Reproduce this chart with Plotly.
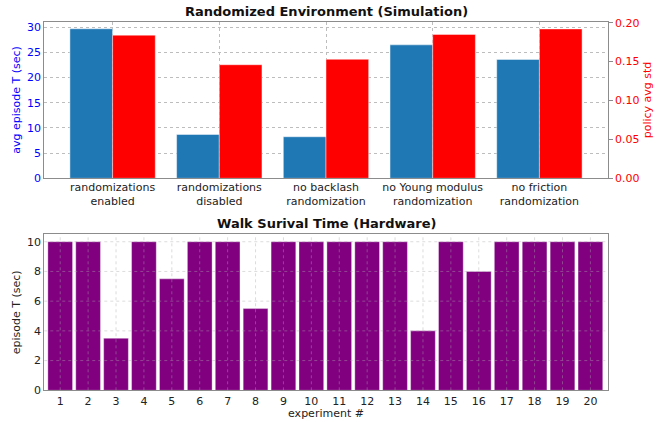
import plotly.graph_objects as go

# ---- data ----
sim_labels = ["randomizations<br>enabled", "randomizations<br>disabled",
              "no backlash<br>randomization", "no Young modulus<br>randomization",
              "no friction<br>randomization"]
sim_pos = [0, 1, 2, 3, 4]
avg_episode_t = [29.7, 8.7, 8.25, 26.5, 23.6]
policy_avg_std = [0.184, 0.146, 0.153, 0.185, 0.192]

experiments = list(range(1, 21))
episode_t = [10, 10, 3.5, 10, 7.5, 10, 10, 5.5, 10, 10,
             10, 10, 10, 4, 10, 8, 10, 10, 10, 10]

left_ticks = [0, 5, 10, 15, 20, 25, 30]
right_ticks = [0.0, 0.05, 0.10, 0.15, 0.20]
hw_yticks = [0, 2, 4, 6, 8, 10]

W, H = 663, 422
FONT = "DejaVu Sans"
SPINE = "#8c8c8c"
GRID = "#bdbdbd"

fig = go.Figure()

# ---- top: simulation ----
fig.add_trace(go.Bar(
    x=sim_pos, y=avg_episode_t, offset=-0.4, width=0.4,
    marker=dict(color="#1f77b4", line=dict(color="rgba(255,255,255,0.45)", width=1)),
    xaxis="x", yaxis="y", showlegend=False
))
fig.add_trace(go.Bar(
    x=sim_pos, y=policy_avg_std, offset=0.0, width=0.4,
    marker=dict(color="#ff0000", line=dict(color="rgba(255,255,255,0.45)", width=1)),
    xaxis="x", yaxis="y2", showlegend=False
))

# ---- bottom: hardware ----
fig.add_trace(go.Bar(
    x=experiments, y=episode_t, width=0.885,
    marker=dict(color="#800080", line=dict(color="rgba(255,255,255,0.35)", width=1)),
    xaxis="x2", yaxis="y3", showlegend=False
))

# grid over the purple bars (matplotlib drew it on top here)
shapes = []
for v in hw_yticks[1:]:
    shapes.append(dict(type="line", xref="x2 domain", yref="y3", x0=0, x1=1, y0=v, y1=v,
                       line=dict(color="rgba(170,170,170,0.6)", width=0.7, dash="dot"),
                       layer="above"))
for e in experiments:
    shapes.append(dict(type="line", xref="x2", yref="y3 domain", x0=e, x1=e, y0=0, y1=1,
                       line=dict(color="rgba(170,170,170,0.6)", width=0.7, dash="dot"),
                       layer="above"))

xd_top = [44.3 / W, 607.7 / W]
yd_top = [1 - 178.3 / H, 1 - 21.7 / H]
yd_bot = [1 - 390.3 / H, 1 - 234.3 / H]

tick_font = dict(family=FONT, size=11, color="#222")
label_size = 11

fig.update_layout(
    width=W, height=H,
    margin=dict(l=0, r=0, t=0, b=0, autoexpand=False),
    paper_bgcolor="white", plot_bgcolor="white",
    font=dict(family=FONT, size=11, color="#222"),
    barmode="overlay",
    shapes=shapes,
    xaxis=dict(domain=xd_top, anchor="y", range=[-0.64, 4.64], automargin=False,
               tickvals=sim_pos, ticktext=sim_labels, tickfont=tick_font,
               ticklabelstandoff=-2,
               showline=True, linecolor=SPINE, linewidth=1, mirror=True,
               showgrid=True, gridcolor=GRID, griddash="dot", gridwidth=0.8,
               ticks="", zeroline=False),
    yaxis=dict(domain=yd_top, anchor="x", range=[0, 31.1], automargin=False,
               tickvals=left_ticks, tickfont=dict(family=FONT, size=11, color="blue"),
               title=dict(text="avg episode T (sec)",
                          font=dict(family=FONT, size=label_size, color="blue"), standoff=4),
               showline=True, linecolor=SPINE, linewidth=1,
               showgrid=True, gridcolor=GRID, griddash="dot", gridwidth=0.8,
               ticks="", zeroline=False),
    yaxis2=dict(overlaying="y", side="right", anchor="x", range=[0, 0.2013], automargin=False,
                tickvals=right_ticks, tickformat=".2f",
                tickfont=dict(family=FONT, size=11, color="red"),
                title=dict(text="policy avg std",
                           font=dict(family=FONT, size=label_size, color="red"), standoff=4),
                showline=True, linecolor=SPINE, linewidth=1,
                ticks="outside", ticklen=4, tickcolor=SPINE,
                showgrid=False, zeroline=False),
    xaxis2=dict(domain=xd_top, anchor="y3", range=[0.43, 20.62], automargin=False,
                tickvals=experiments, tickfont=tick_font,
                title=dict(text="experiment #",
                           font=dict(family=FONT, size=label_size, color="#222"), standoff=1),
                showline=True, linecolor=SPINE, linewidth=1, mirror=True,
                showgrid=False, ticks="", zeroline=False),
    yaxis3=dict(domain=yd_bot, anchor="x2", range=[0, 10.5], automargin=False,
                tickvals=hw_yticks, tickfont=dict(family=FONT, size=11, color="#222"),
                title=dict(text="episode T (sec)",
                           font=dict(family=FONT, size=label_size, color="#222"), standoff=4),
                showline=True, linecolor=SPINE, linewidth=1, mirror=True,
                showgrid=False, ticks="", zeroline=False),
    annotations=[
        dict(text="<b>Randomized Environment (Simulation)</b>", xref="paper", yref="paper",
             x=(xd_top[0] + xd_top[1]) / 2, y=1 - 12 / H, yanchor="middle", showarrow=False,
             font=dict(family=FONT, size=13, color="#111")),
        dict(text="<b>Walk Surival Time (Hardware)</b>", xref="paper", yref="paper",
             x=(xd_top[0] + xd_top[1]) / 2, y=1 - 223.5 / H, yanchor="middle", showarrow=False,
             font=dict(family=FONT, size=13, color="#111")),
    ],
)

# drop the browser's default 8px body margin so the figure sits at the page corner
fig.write_html("out.html", config={"displayModeBar": False},
               post_script="document.body.style.margin='0';")
